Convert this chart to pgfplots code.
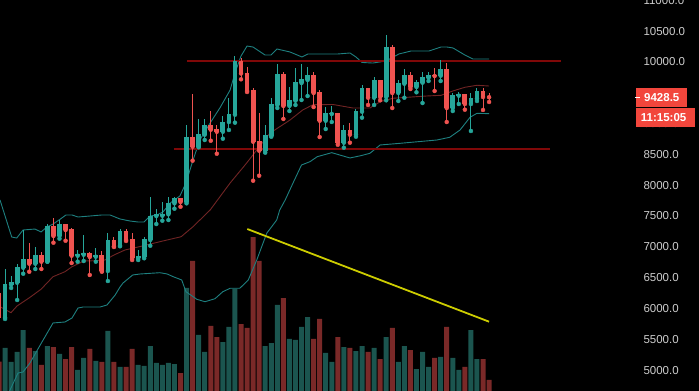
\documentclass[border=0pt]{standalone}
\usepackage{fontspec}
\setmainfont{Liberation Sans}
\usepackage{pgfplots}
\pgfplotsset{compat=1.18}
\usepackage{pgfplotstable}
\usepgfplotslibrary{fillbetween}

\definecolor{cup}{RGB}{38,166,154}
\definecolor{cdn}{RGB}{239,83,80}
\definecolor{vup}{RGB}{27,85,79}
\definecolor{vdn}{RGB}{122,41,40}
\definecolor{bandline}{RGB}{30,128,128}
\definecolor{midline}{RGB}{112,36,36}
\definecolor{bandfill}{RGB}{7,16,16}
\definecolor{hline}{RGB}{128,8,8}
\definecolor{trend}{RGB}{205,205,0}
\definecolor{axisgrey}{RGB}{120,120,120}
\definecolor{labelgrey}{RGB}{205,205,205}
\definecolor{boxred}{RGB}{242,70,60}

% rising candles: index, body low, body high, wick low, wick high, volume
\pgfplotstableread{
i bl bh wl wh v
1 5850 6392 5829 6640 5358
2 6385 6424 6332 6527 5131
3 6418 6673 6137 6726 5293
4 6661 6802 6564 7273 5650
6 6726 6867 6640 7002 5309
8 6759 7338 6759 7370 5390
10 7176 7370 7132 7435 5261
13 6856 6884 6759 6948 5001
14 6872 6900 6770 7192 5196
16 6840 6867 6759 6981 5147
18 6608 7111 6445 7224 5634
20 7018 7257 7009 7289 5050
23 6814 6851 6786 6948 5082
24 6840 7127 6814 7159 5066
25 7111 7500 7018 7809 5390
26 7500 7528 7370 7614 5115
27 7505 7538 7424 7727 5082
28 7528 7706 7435 7809 5115
29 7706 7792 7619 7809 5098
31 7727 8782 7706 8977 6332
33 8625 8831 8615 9075 5569
34 8820 8977 8734 9075 5293
37 8868 9026 8755 9123 5455
38 9026 9156 8896 9415 5699
39 9144 10016 9015 10097 6316
44 8560 8815 8528 8977 5390
45 8799 9318 8787 9415 5439
46 9302 9805 9253 9967 6056
48 9286 9383 9204 9594 5504
49 9372 9675 9302 9902 5488
50 9659 9724 9383 9967 5699
51 9708 9789 9448 9919 5861
54 9047 9172 8912 9269 5277
55 9156 9172 9026 9286 5131
57 8690 8896 8609 8977 5374
59 8820 9204 8787 9237 5309
60 9193 9578 9096 9626 5390
62 9420 9708 9302 9761 5358
64 9432 10243 9378 10438 5536
66 9497 9659 9367 9708 5131
67 9647 9789 9420 9886 5390
69 9594 9675 9508 9708 5017
70 9664 9756 9334 9837 5293
71 9745 9789 9691 9837 5050
73 9777 9886 9691 10032 5212
75 9253 9464 9204 9497 5196
76 9453 9485 9318 9513 5001
78 9318 9415 8880 9497 5650
79 9404 9529 9367 9578 5179
}\tblup

% falling candles
\pgfplotstableread{
i bl bh wl wh v
0 5845 6251 5830 6260 5136
5 6726 6802 6596 7062 5358
7 6759 6867 6640 6916 5082
9 7176 7338 7067 7468 5374
11 7273 7370 7099 7370 5179
12 6856 7289 6737 7306 5374
15 6835 6900 6543 6916 5342
17 6608 6867 6596 6932 5131
19 7009 7111 6997 7159 5131
21 7111 7257 7095 7289 5050
22 6814 7127 6786 7224 5342
30 7727 7792 7651 7792 4952
32 8625 8782 8398 9480 6770
35 8901 8977 8722 9204 5715
36 8868 8912 8511 8977 5536
40 9813 10016 9719 10065 5747
41 9529 9821 9513 9919 5683
42 8706 9545 8073 9573 7159
43 8560 8718 8154 9172 6770
47 9286 9805 9075 9837 6169
52 9497 9789 9269 9837 5504
53 9047 9513 8782 9545 5829
56 8690 9172 8657 9172 5536
58 8820 8896 8690 9010 5358
61 9420 9578 9302 9578 5293
63 9432 9708 9378 9708 5179
65 9497 10243 9253 10276 5683
68 9594 9789 9561 9837 5325
72 9772 9789 9529 9902 5196
74 9253 9886 9026 9983 5699
77 9318 9480 9226 9480 5050
80 9432 9529 9221 9578 5179
81 9428 9447 9351 9497 4839
}\tbldn

\pgfplotstableread{
i p
0.17 7760
2.1 7159
2.93 7143
3.97 7273
5.95 7289
6.94 7241
7.93 7322
8.93 7370
9.92 7435
11.07 7517
12.07 7517
13.06 7484
15.04 7500
17.02 7517
18.35 7517
20.0 7452
21.65 7419
22.98 7403
23.97 7403
24.96 7500
26.1 7517
27.1 7565
28.3 7711
29.9 7825
30.9 8036
32.07 8409
33.2 8734
34.9 9010
36.5 9253
38.2 9545
39.0 9821
40.0 10097
41.0 10259
41.98 10243
43.97 10113
44.96 10113
45.95 10211
48.1 10162
50.08 10081
51.07 10130
53.06 10130
56.03 10130
58.0 10146
59.0 10081
60.0 9992
61.8 9983
63.97 10016
66.1 10130
68.1 10178
71.07 10178
73.06 10243
74.05 10243
75.04 10227
77.0 10113
78.35 10048
81.0 10048
}\tblupper

\pgfplotstableread{
i p
0.17 6028
1.98 5931
2.98 6040
4.96 6169
6.94 6311
8.93 6515
10.9 6596
12.07 6677
14.05 6770
16.03 6775
17.5 6786
19.0 6867
20.8 6948
22.98 6997
27.1 7095
30.1 7164
32.07 7327
34.9 7598
38.2 8036
40.8 8344
44.8 8847
48.1 9058
50.2 9221
51.9 9307
55.2 9310
58.5 9253
61.3 9253
63.0 9355
65.1 9411
70.7 9448
73.06 9459
75.0 9529
77.0 9589
79.0 9622
81.0 9610
}\tblmid

\pgfplotstableread{
i p
0.17 4189
1.82 4676
3.14 4952
3.97 4968
5.12 5115
7.1 5455
8.93 5764
10.9 5780
12.07 5845
13.06 6007
13.9 6023
16.7 6023
17.85 6056
19.2 6218
20.0 6348
20.5 6413
22.1 6543
23.3 6559
26.6 6580
27.8 6559
28.8 6515
30.2 6462
30.9 6272
32.7 6148
34.05 6109
35.7 6158
37.0 6272
38.2 6327
39.8 6327
41.2 6462
42.6 6786
44.25 7220
45.9 7435
46.4 7598
47.3 7760
48.6 8036
50.0 8328
51.4 8382
52.6 8463
55.0 8528
58.0 8442
59.8 8479
61.3 8518
63.0 8653
66.3 8680
72.4 8734
74.5 8778
76.2 8896
77.85 9102
79.0 9167
81.0 9161
}\tbllower

\begin{document}
\begin{tikzpicture}
\fill[black] (0,0) rectangle (699pt,391pt);
\begin{axis}[
  at={(0,0)}, anchor=south west,
  scale only axis, width=635pt, height=391pt,
  xmin=0.165, xmax=105.12, ymin=4660, ymax=11006,
  axis x line=bottom, axis y line=right,
  axis line style={-, draw=axisgrey, line width=1pt},
  xtick=\empty,
  ytick={5000,5500,...,11000},
  scaled y ticks=false,
  tick align=outside, major tick length=5pt,
  tick style={draw=axisgrey, line width=0.8pt},
  yticklabel style={font=\fontsize{11.5}{13}\selectfont, text=labelgrey},
  /pgf/number format/.cd, fixed, fixed zerofill, precision=1, 1000 sep={}, assume math mode=true,
  /pgfplots/.cd,
]
\addplot[name path=bu, draw=none] table[x=i, y=p] {\tblupper};
\addplot[name path=bl, draw=none] table[x=i, y=p] {\tbllower};
\addplot[bandfill] fill between[of=bu and bl];

% volume
\addplot[ybar, bar width=5pt, bar shift=0pt, fill=vup, draw=none] table[x=i, y=v] {\tblup};
\addplot[ybar, bar width=5pt, bar shift=0pt, fill=vdn, draw=none] table[x=i, y=v] {\tbldn};

% bands
\addplot[bandline, line width=0.9pt] table[x=i, y=p] {\tblupper};
\addplot[bandline, line width=0.9pt] table[x=i, y=p] {\tbllower};
\addplot[midline, line width=0.9pt] table[x=i, y=p] {\tblmid};

% support / resistance and trend
\addplot[hline, line width=2pt] coordinates {(31.07,10024) (92.9,10024)};
\addplot[hline, line width=2pt] coordinates {(28.9,8580) (91.1,8580)};
\addplot[trend, line width=1.8pt] coordinates {(41.04,7289) (81.0,5785)};

% candles
\addplot[cup, only marks, mark=none, error bars/.cd, y dir=plus, y explicit, error mark=none,
  error bar style={line width=1pt, draw=cup}]
  table[x=i, y=wl, y error expr=\thisrow{wh}-\thisrow{wl}] {\tblup};
\addplot[cdn, only marks, mark=none, error bars/.cd, y dir=plus, y explicit, error mark=none,
  error bar style={line width=1pt, draw=cdn}]
  table[x=i, y=wl, y error expr=\thisrow{wh}-\thisrow{wl}] {\tbldn};
\addplot[cup, only marks, mark=none, error bars/.cd, y dir=plus, y explicit, error mark=none,
  error bar style={line width=4.8pt, draw=cup}]
  table[x=i, y=bl, y error expr=\thisrow{bh}-\thisrow{bl}] {\tblup};
\addplot[cdn, only marks, mark=none, error bars/.cd, y dir=plus, y explicit, error mark=none,
  error bar style={line width=4.8pt, draw=cdn}]
  table[x=i, y=bl, y error expr=\thisrow{bh}-\thisrow{bl}] {\tbldn};
\end{axis}
\fill[boxred] (635.7pt,284.3pt) rectangle (687.3pt,302.7pt);
\draw[white, line width=1pt] (635pt,293.8pt) -- (640pt,293.8pt);
\node[anchor=west, inner sep=0pt, text=white, font=\bfseries\fontsize{11.5}{13}\selectfont] at (644pt,293.5pt) {9428.5};
\fill[boxred] (635.7pt,264.3pt) rectangle (694.7pt,283pt);
\node[anchor=west, inner sep=0pt, text=white, font=\bfseries\fontsize{11.5}{13}\selectfont] at (640.7pt,273.6pt) {11:15:05};
\pgfresetboundingbox
\useasboundingbox (0,0) rectangle (699pt,391pt);
\end{tikzpicture}
\end{document}
